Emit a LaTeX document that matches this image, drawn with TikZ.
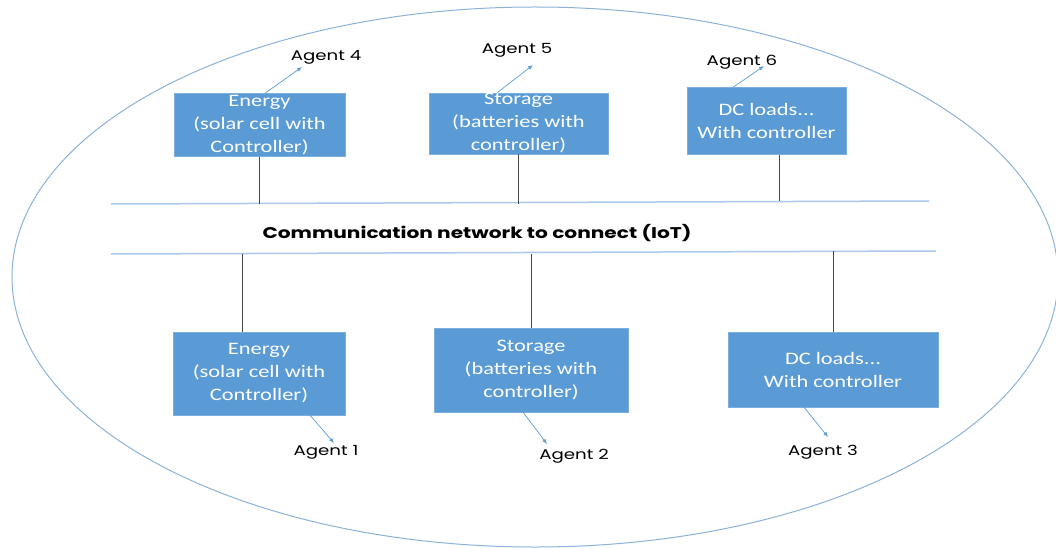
\documentclass[tikz,border=0pt]{standalone}
\usepackage{fontspec}
\usepackage{tikz}
\newfontfamily\boxfont[FakeStretch=1.28]{Carlito}
\newfontfamily\agentfont[FakeStretch=1.3]{Poppins}
\usetikzlibrary{positioning,calc,arrows.meta}
\definecolor{boxblue}{RGB}{91,155,213}
\definecolor{boxedge}{RGB}{125,175,222}
\definecolor{ringblue}{RGB}{140,178,218}
\definecolor{busblue}{RGB}{170,200,235}
\definecolor{linkgray}{RGB}{70,70,70}
\tikzset{
  agentbox/.style={draw=boxedge, fill=boxblue, text=white, align=center,
    inner sep=0pt, font=\boxfont\fontsize{17.5}{23}\selectfont},
  agentlabel/.style={font=\agentfont\fontsize{14}{16}\selectfont, inner sep=0pt},
  bus/.style={draw=busblue, line width=1.5pt},
  link/.style={draw=linkgray, line width=0.8pt},
  agentarrow/.style={draw=boxblue, line width=0.7pt, -{Latex[length=5pt,width=4pt]}},
}

\begin{document}
\begin{tikzpicture}[x=1pt,y=-1pt]
    \useasboundingbox (0,0) rectangle (1056,548);
    % Boundary
    \draw[ringblue, line width=1pt] (535,277) ellipse [x radius=523, y radius=270];

    % Communication network
    \coordinate (busTL) at (111,204);
    \coordinate (busTR) at (929,201);
    \coordinate (busBL) at (111,254);
    \coordinate (busBR) at (936,251);
    \draw[bus] (busTL) -- (busTR);
    \draw[bus] (busBL) -- (busBR);
    \node[font=\agentfont\bfseries\fontsize{15.5}{17}\selectfont] (iot) at (477,233) {Communication network to connect (IoT)};

    % Top row
    \node[agentbox, minimum width=171pt, minimum height=63pt] (e4) at (259.5,125) {Energy\\(solar cell with\\Controller)};
    \node[agentbox, minimum width=179pt, minimum height=61pt] (e5) at (518.5,123.5) {Storage\\(batteries with\\controller)};
    \node[agentbox, minimum width=159pt, minimum height=67pt] (e6) at (766.5,121) {DC loads...\\With controller};
    \draw[link] (e4.south) -- (e4.south |- busTL);
    \draw[link] (e5.south) -- (e5.south |- busTL);
    \draw[link] ([xshift=12.5pt]e6.south) -- ([xshift=12.5pt]e6.south |- busTR);

    % Bottom row
    \node[agentbox, minimum width=172pt, minimum height=83pt] (e1) at (259,373.5) {Energy\\(solar cell with\\Controller)};
    \node[agentbox, minimum width=194pt, minimum height=84pt] (e2) at (531,370) {Storage\\(batteries with\\controller)};
    \node[agentbox, minimum width=210pt, minimum height=75pt] (e3) at (833,369.5) {DC loads...\\With controller};
    \draw[link] ([xshift=-17pt]e1.north |- busBL) -- ([xshift=-17pt]e1.north);
    \draw[link] (e2.north |- busBL) -- (e2.north);
    \draw[link] (e3.north |- busBR) -- (e3.north);

    % Agents
    \node[agentlabel] (ag4) at (326,57) {Agent 4};
    \node[agentlabel] (ag5) at (517,50) {Agent 5};
    \node[agentlabel] (ag6) at (742,62) {Agent 6};
    \node[agentlabel] (ag1) at (326,452) {Agent 1};
    \node[agentlabel] (ag2) at (574,456) {Agent 2};
    \node[agentlabel] (ag3) at (823,452) {Agent 3};
    \coordinate (t4) at (302,67);
    \coordinate (t5) at (533,65);
    \coordinate (t6) at (764,66);
    \coordinate (t1) at (334,443);
    \coordinate (t2) at (547,444);
    \coordinate (t3) at (828,437);
    \draw[agentarrow] ([xshift=5.5pt]e4.north) -- (t4);
    \draw[agentarrow] ([xshift=-21.5pt]e5.north) -- (t5);
    \draw[agentarrow] ([xshift=-33.5pt]e6.north) -- (t6);
    \draw[agentarrow] ([xshift=51pt]e1.south) -- (t1);
    \draw[agentarrow] ([xshift=-8pt]e2.south) -- (t2);
    \draw[agentarrow] ([xshift=-29pt]e3.south) -- (t3);
\end{tikzpicture}
\end{document}
